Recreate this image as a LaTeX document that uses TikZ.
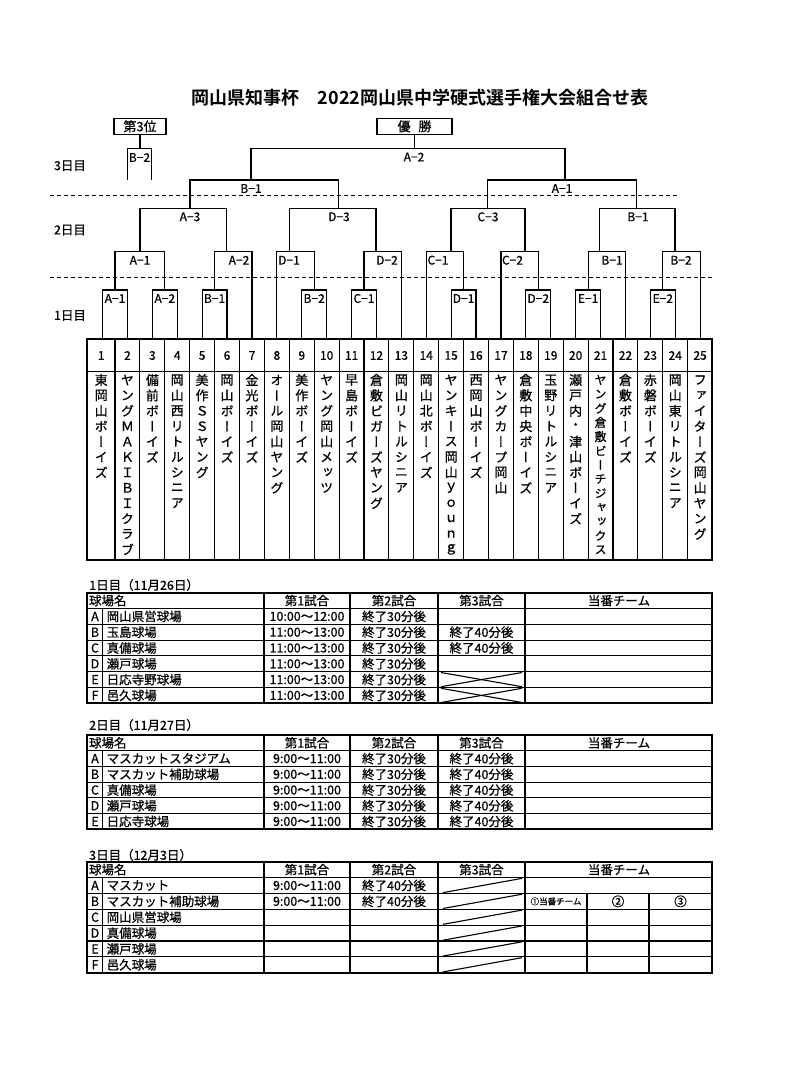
\documentclass[tikz,border=0pt]{standalone}
\usepackage{fontspec}
\setmainfont{Noto Sans CJK JP}[FakeBold=0.7]
\newfontfamily\vjp{Noto Sans CJK JP}[RawFeature=+vert, FakeBold=0.7]
\newfontfamily\tjp{Noto Sans CJK JP Bold}
\tikzset{
  br/.style={line width=1.2pt},
  lbl/.style={font=\fontsize{12}{12}\selectfont, inner sep=0pt},
  dashline/.style={line width=0.9pt, dash pattern=on 4pt off 3pt},
  tm/.style={font=\vjp\fontsize{13}{13}\selectfont, inner sep=0pt},
  num/.style={font=\fontsize{12}{12}\selectfont, inner sep=0pt},
  cell/.style={font=\fontsize{12.5}{12.5}\selectfont, inner sep=0pt},
  tline/.style={line width=1.1pt},
  touter/.style={line width=1.7pt},
  topbox/.style={draw, line width=1.2pt, font=\fontsize{13}{13}\selectfont, minimum height=16pt, inner sep=0pt},
  daylbl/.style={font=\fontsize{12.5}{12.5}\selectfont, inner sep=0pt}
}
\newcommand{\schedgrid}[3]{%
  \pgfmathsetmacro\sgBot{#1+#2*#3}%
  \pgfmathtruncatemacro\sgN{#3-1}%
  \foreach \i in {1,...,\sgN} \draw[tline] (87.3,{#1+#2*\i}) -- (712.3,{#1+#2*\i});
  \draw[tline] (102.7,{#1+#2}) -- (102.7,\sgBot);
  \foreach \x in {264,350,438,525} \draw[tline] (\x,#1) -- (\x,\sgBot);
  \draw[touter] (87.3,#1) rectangle (712.3,\sgBot);
  \node[cell, anchor=west] at (88.8,{#1+#2/2}) {球場名};
  \node[cell] at (307,{#1+#2/2}) {第1試合};
  \node[cell] at (394,{#1+#2/2}) {第2試合};
  \node[cell] at (481.5,{#1+#2/2}) {第3試合};
  \node[cell] at (619,{#1+#2/2}) {当番チーム};
}
\newcommand{\srow}[8]{%
  \node[cell] at (95,{#1+#2*(#3+0.5)}) {#4};
  \node[cell, anchor=west] at (106.5,{#1+#2*(#3+0.5)}) {#5};
  \node[cell] at (307,{#1+#2*(#3+0.5)}) {#6};
  \node[cell] at (394,{#1+#2*(#3+0.5)}) {#7};
  \node[cell] at (481.5,{#1+#2*(#3+0.5)}) {#8};
}
\begin{document}
\begin{tikzpicture}[x=1pt,y=-1pt]
\useasboundingbox (0,0) rectangle (800,1065);
\fill[white] (0,0) rectangle (800,1065);

% title
\node[font=\tjp\fontsize{18}{18}\selectfont, inner sep=0pt] (title) at (420,98) {岡山県知事杯　2022岡山県中学硬式選手権大会組合せ表};

% day labels
\node[daylbl] (d3) at (70,165.7) {3日目};
\node[daylbl] (d2) at (70,230) {2日目};
\node[daylbl] (d1) at (70,315.5) {1日目};

% dashed separators
\draw[dashline] (50,195) -- (678,195);
\draw[dashline] (50,277) -- (713,277);

% top boxes
\node[topbox, minimum width=52pt] (third) at (140,126.3) {第3位};
\node[topbox, minimum width=75pt] (win) at (414.5,126.3) {優\hspace{0.6em}勝};
\coordinate (thirdj) at (140,148.3);
\coordinate (winj) at (414.5,148.3);
\draw[br] (third.south) -- (thirdj);
\draw[br] (win.south) -- (winj);

% third place match
\draw[br] (127.3,180) |- (151.7,148.3) -- (151.7,180);
\node[lbl] (l3rd) at (139.5,157.5) {B−2};

% final
\draw[br] (251,180) |- (565,148.3) -- (565,180);
\node[lbl] (lfin) at (414,157) {A−2};

% day 3
\draw[br] (190,208.3) |- (338.3,180) -- (338.3,208.3);
\node[lbl] (ls1) at (251,188.5) {B−1};
\draw[br] (487.7,208.3) |- (636.7,180) -- (636.7,208.3);
\node[lbl] (ls2) at (562,188.5) {A−1};

% day 2, second round
\foreach \xl/\xr/\lx/\lab/\nm in {140/226.7/190/A−3/q1, 289.3/376/339/D−3/q2, 451/525/488/C−3/q3, 599.3/675/638/B−1/q4} {
  \draw[br] (\xl,251.7) |- (\xr,208.3) -- (\xr,251.7);
  \node[lbl] (\nm) at (\lx,216.8) {\lab};
}

% day 2, first round
\foreach \xl/\yl/\xr/\yr/\lx/\lab/\nm in {115/290/164.8/290/140/A−1/r1, 214.6/290/251.95/339.3/239/A−2/r2, 276.85/339.3/314.2/290/289/D−1/r3, 364/290/401.35/339.3/387/D−2/r4, 426.25/339.3/463.6/290/438/C−1/r5, 500.95/339.3/538.3/290/512.5/C−2/r6, 588.1/290/625.45/339.3/612/B−1/r7, 662.8/290/700.15/339.3/681/B−2/r8} {
  \draw[br] (\xl,\yl) |- (\xr,251.7) -- (\xr,\yr);
  \node[lbl] (\nm) at (\lx,260.2) {\lab};
}

% day 1
\foreach \a/\b/\lab/\nm in {1/2/A−1/s1, 3/4/A−2/s2, 5/6/B−1/s3, 9/10/B−2/s4, 11/12/C−1/s5, 15/16/D−1/s6, 18/19/D−2/s7, 20/21/E−1/s8, 23/24/E−2/s9} {
  \draw[br] ({115+24.9*(\a-1.5)},339.3) |- ({115+24.9*(\b-1.5)},290) -- ({115+24.9*(\b-1.5)},339.3);
  \node[lbl] (\nm) at ({115+24.9*((\a+\b)/2-1.5)},298.5) {\lab};
}

% team table
\foreach \k in {1,...,24} \draw[tline] ({115+24.9*(\k-1)},339.3) -- ({115+24.9*(\k-1)},560);
\draw[tline] (87.3,371.7) -- (712.3,371.7);
\draw[touter] (87.3,339.3) rectangle (712.3,560);
\foreach \k in {1,...,25} \node[num] (n\k) at ({ifthenelse(\k==1,101.2,115+24.9*(\k-1.5))},355.5) {\k};

\foreach \k/\nmlist in {
  1/{東,岡,山,ボ,ー,イ,ズ},
  2/{ヤ,ン,グ,Ｍ,Ａ,Ｋ,Ｉ,Ｂ,Ｉ,ク,ラ,ブ},
  3/{備,前,ボ,ー,イ,ズ},
  4/{岡,山,西,リ,ト,ル,シ,ニ,ア},
  5/{美,作,Ｓ,Ｓ,ヤ,ン,グ},
  6/{岡,山,ボ,ー,イ,ズ},
  7/{金,光,ボ,ー,イ,ズ},
  8/{オ,ー,ル,岡,山,ヤ,ン,グ},
  9/{美,作,ボ,ー,イ,ズ},
  10/{ヤ,ン,グ,岡,山,メ,ッ,ツ},
  11/{早,島,ボ,ー,イ,ズ},
  12/{倉,敷,ビ,ガ,ー,ズ,ヤ,ン,グ},
  13/{岡,山,リ,ト,ル,シ,ニ,ア},
  14/{岡,山,北,ボ,ー,イ,ズ},
  15/{ヤ,ン,キ,ー,ス,岡,山,ｙ,ｏ,ｕ,ｎ,ｇ},
  16/{西,岡,山,ボ,ー,イ,ズ},
  17/{ヤ,ン,グ,カ,ー,プ,岡,山},
  18/{倉,敷,中,央,ボ,ー,イ,ズ},
  19/{玉,野,リ,ト,ル,シ,ニ,ア},
  20/{瀬,戸,内,・,津,山,ボ,ー,イ,ズ},
  22/{倉,敷,ボ,ー,イ,ズ},
  23/{赤,磐,ボ,ー,イ,ズ},
  24/{岡,山,東,リ,ト,ル,シ,ニ,ア},
  25/{フ,ァ,イ,タ,ー,ズ,岡,山,ヤ,ン,グ}} {
  \foreach \ch [count=\i] in \nmlist {
    \node[tm] (t\k-\i) at ({ifthenelse(\k==1,101.2,115+24.9*(\k-1.5))},{380+15.4*(\i-1)}) {\ch};
  }
}
\foreach \ch [count=\i] in {ヤ,ン,グ,倉,敷,ビ,ー,チ,ジ,ャ,ッ,ク,ス} {
  \node[tm, font=\vjp\fontsize{12}{12}\selectfont] (t21-\i) at (600.55,{380+14.15*(\i-1)}) {\ch};
}

% ---- day 1 schedule
\node[daylbl, anchor=west] (c1) at (89,585) {1日目（11月26日）};
\schedgrid{592.7}{15.8}{7}
\srow{592.7}{15.8}{1}{A}{岡山県営球場}{10:00～12:00}{終了30分後}{}
\srow{592.7}{15.8}{2}{B}{玉島球場}{11:00～13:00}{終了30分後}{終了40分後}
\srow{592.7}{15.8}{3}{C}{真備球場}{11:00～13:00}{終了30分後}{終了40分後}
\srow{592.7}{15.8}{4}{D}{瀬戸球場}{11:00～13:00}{終了30分後}{}
\srow{592.7}{15.8}{5}{E}{日応寺野球場}{11:00～13:00}{終了30分後}{}
\srow{592.7}{15.8}{6}{F}{邑久球場}{11:00～13:00}{終了30分後}{}
\foreach \i in {5,6} {
  \draw[tline] (441,{592.7+15.8*\i+0.8}) -- (522,{592.7+15.8*(\i+1)-0.8});
  \draw[tline] (441,{592.7+15.8*(\i+1)-0.8}) -- (522,{592.7+15.8*\i+0.8});
}

% ---- day 2 schedule
\node[daylbl, anchor=west] (c2) at (89,725) {2日目（11月27日）};
\schedgrid{735}{15.72}{6}
\srow{735}{15.72}{1}{A}{マスカットスタジアム}{9:00～11:00}{終了30分後}{終了40分後}
\srow{735}{15.72}{2}{B}{マスカット補助球場}{9:00～11:00}{終了30分後}{終了40分後}
\srow{735}{15.72}{3}{C}{真備球場}{9:00～11:00}{終了30分後}{終了40分後}
\srow{735}{15.72}{4}{D}{瀬戸球場}{9:00～11:00}{終了30分後}{終了40分後}
\srow{735}{15.72}{5}{E}{日応寺球場}{9:00～11:00}{終了30分後}{終了40分後}

% ---- day 3 schedule
\node[daylbl, anchor=west] (c3) at (89,855) {3日目（12月3日）};
\schedgrid{861.7}{15.86}{7}
\srow{861.7}{15.86}{1}{A}{マスカット}{9:00～11:00}{終了40分後}{}
\srow{861.7}{15.86}{2}{B}{マスカット補助球場}{9:00～11:00}{終了40分後}{}
\srow{861.7}{15.86}{3}{C}{岡山県営球場}{}{}{}
\srow{861.7}{15.86}{4}{D}{真備球場}{}{}{}
\srow{861.7}{15.86}{5}{E}{瀬戸球場}{}{}{}
\srow{861.7}{15.86}{6}{F}{邑久球場}{}{}{}
\foreach \i in {1,...,6} {
  \draw[tline] (443,{861.7+15.86*(\i+1)-0.8}) -- (522,{861.7+15.86*\i+0.8});
}
\draw[tline] (587,{861.7+15.86*2}) -- (587,972.7);
\draw[tline] (649,{861.7+15.86*2}) -- (649,972.7);
\node[font=\fontsize{8.5}{8.5}\selectfont, inner sep=0pt] (duty1) at (556,{861.7+15.86*2.5}) {①当番チーム};
\node[cell] (duty2) at (618,{861.7+15.86*2.5}) {②};
\node[cell] (duty3) at (680.5,{861.7+15.86*2.5}) {③};

\end{tikzpicture}
\end{document}
